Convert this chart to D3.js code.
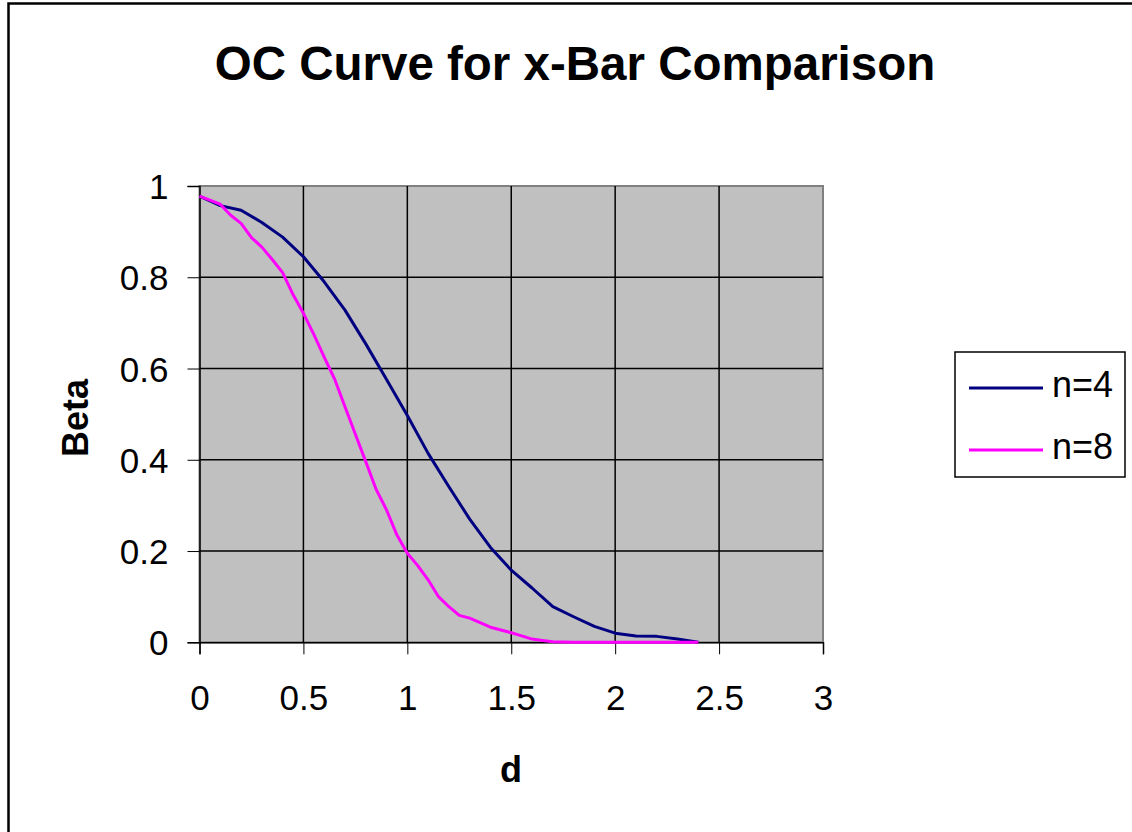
<!DOCTYPE html>
<html>
<head>
<meta charset="utf-8">
<script src="https://cdn.jsdelivr.net/npm/d3@7"></script>
<style>
  body { margin: 0; background: #fff; }
  text { font-family: "Liberation Sans", Arial, sans-serif; }
</style>
</head>
<body>
<div id="chart"></div>
<script>
// values
var xTicks = [0, 0.5, 1, 1.5, 2, 2.5, 3]
var yTicks = [0, 0.2, 0.4, 0.6, 0.8, 1]

var dN4 = [0, 0.1, 0.2, 0.3, 0.4, 0.5, 0.6, 0.7, 0.8, 0.9, 1.0, 1.1, 1.2,
	1.3, 1.4, 1.5, 1.6, 1.7, 1.8, 1.9, 2.0, 2.1, 2.2, 2.3, 2.4]
var betaN4 = [0.978, 0.957, 0.947, 0.920, 0.888, 0.845, 0.790, 0.728, 0.654, 0.576, 0.497, 0.414, 0.341,
	0.270, 0.208, 0.158, 0.119, 0.078, 0.056, 0.035, 0.020, 0.014, 0.013, 0.007, 0.000]

var dN8 = [0, 0.05, 0.1, 0.15, 0.2, 0.25, 0.3, 0.35, 0.4, 0.45, 0.5, 0.55, 0.6, 0.65, 0.7, 0.75,
	0.8, 0.85, 0.9, 0.95, 1.0, 1.05, 1.1, 1.15, 1.2, 1.25, 1.3, 1.35, 1.4, 1.45, 1.5, 1.55,
	1.6, 1.65, 1.7, 1.8, 1.9, 2.0, 2.1, 2.2, 2.3, 2.4]
var betaN8 = [0.978, 0.969, 0.960, 0.936, 0.918, 0.887, 0.866, 0.839, 0.810, 0.762, 0.721, 0.675, 0.625, 0.577, 0.516, 0.456,
	0.396, 0.335, 0.290, 0.235, 0.195, 0.168, 0.137, 0.100, 0.078, 0.059, 0.053, 0.043, 0.033, 0.027, 0.021, 0.014,
	0.007, 0.004, 0.001, 0, 0, 0, 0, 0, 0, 0]

var seriesNames = ['n=4', 'n=8']
var seriesColors = ['#000080', '#ff00ff']

var width = 1132, height = 832
var plot = { left: 199.5, right: 823, top: 186, bottom: 642.3 }

var svg = d3.select('#chart')
	.append('svg')
	.attr('width', width).attr('height', height)

// outer chart frame (runs off the right / bottom edge in the original)
svg.append('rect')
	.attr('x', 8.5).attr('y', 3.5).attr('width', 1135).attr('height', 840)
	.attr('fill', '#fff').attr('stroke', '#000').attr('stroke-width', 2.5)

var x = d3.scaleLinear().domain([0, 3]).range([plot.left, plot.right])
var y = d3.scaleLinear().domain([0, 1]).range([plot.bottom, plot.top])

// plot area
svg.append('rect')
	.attr('x', plot.left).attr('y', plot.top)
	.attr('width', plot.right - plot.left).attr('height', plot.bottom - plot.top)
	.attr('fill', '#c0c0c0').attr('stroke', '#808080').attr('stroke-width', 2)

// gridlines
svg.append('g').selectAll('line').data(xTicks.slice(1, -1)).join('line')
	.attr('x1', d => x(d)).attr('x2', d => x(d))
	.attr('y1', plot.top).attr('y2', plot.bottom)
	.attr('stroke', '#000').attr('stroke-width', 1.5)
svg.append('g').selectAll('line').data(yTicks.slice(1, -1)).join('line')
	.attr('x1', plot.left).attr('x2', plot.right)
	.attr('y1', d => y(d)).attr('y2', d => y(d))
	.attr('stroke', '#000').attr('stroke-width', 1.5)

// axes
var xAxis = svg.append('g')
	.attr('transform', 'translate(0,' + plot.bottom + ')')
	.call(d3.axisBottom(x).tickValues(xTicks).tickFormat(d3.format('')).tickSize(12).tickPadding(31))
var yAxis = svg.append('g')
	.attr('transform', 'translate(' + plot.left + ',0)')
	.call(d3.axisLeft(y).tickValues(yTicks).tickFormat(d3.format('')).tickSize(12).tickPadding(19))

;[xAxis, yAxis].forEach(function (g) {
	g.select('.domain').attr('stroke', '#000').attr('stroke-width', 1.5)
	g.selectAll('.tick line').attr('stroke', '#000').attr('stroke-width', 1)
	g.selectAll('.tick text')
		.attr('fill', '#000')
		.style('font-family', '"Liberation Sans", Arial, sans-serif')
		.style('font-size', '35px')
})
yAxis.selectAll('.tick text').attr('dy', '0.36em')

// curves
var line = d3.line().x(d => x(d[0])).y(d => y(d[1]))
var series = [d3.zip(dN4, betaN4), d3.zip(dN8, betaN8)]

svg.append('g').selectAll('path').data(series).join('path')
	.attr('d', line)
	.attr('fill', 'none')
	.attr('stroke', (d, i) => seriesColors[i])
	.attr('stroke-width', 3)
	.attr('stroke-linejoin', 'round')

// title + axis titles
svg.append('text')
	.attr('x', 575).attr('y', 80)
	.attr('text-anchor', 'middle')
	.style('font-size', '47.5px').style('font-weight', 'bold')
	.text('OC Curve for x-Bar Comparison')

svg.append('text')
	.attr('x', 511).attr('y', 782)
	.attr('text-anchor', 'middle')
	.style('font-size', '36px').style('font-weight', 'bold')
	.text('d')

svg.append('text')
	.attr('transform', 'translate(88,418) rotate(-90)')
	.attr('text-anchor', 'middle')
	.style('font-size', '36px').style('font-weight', 'bold')
	.text('Beta')

// legend
var legend = svg.append('g')
legend.append('rect')
	.attr('x', 955).attr('y', 352).attr('width', 170).attr('height', 125)
	.attr('fill', '#fff').attr('stroke', '#000').attr('stroke-width', 1.5)

var items = legend.selectAll('g.item').data(seriesNames).join('g')
	.attr('class', 'item')
	.attr('transform', (d, i) => 'translate(0,' + (388 + i * 62) + ')')
items.append('line')
	.attr('x1', 969).attr('x2', 1043)
	.attr('stroke', (d, i) => seriesColors[i]).attr('stroke-width', 3)
items.append('text')
	.attr('x', 1052).attr('y', 9)
	.style('font-size', '36px')
	.text(d => d)
</script>
</body>
</html>
